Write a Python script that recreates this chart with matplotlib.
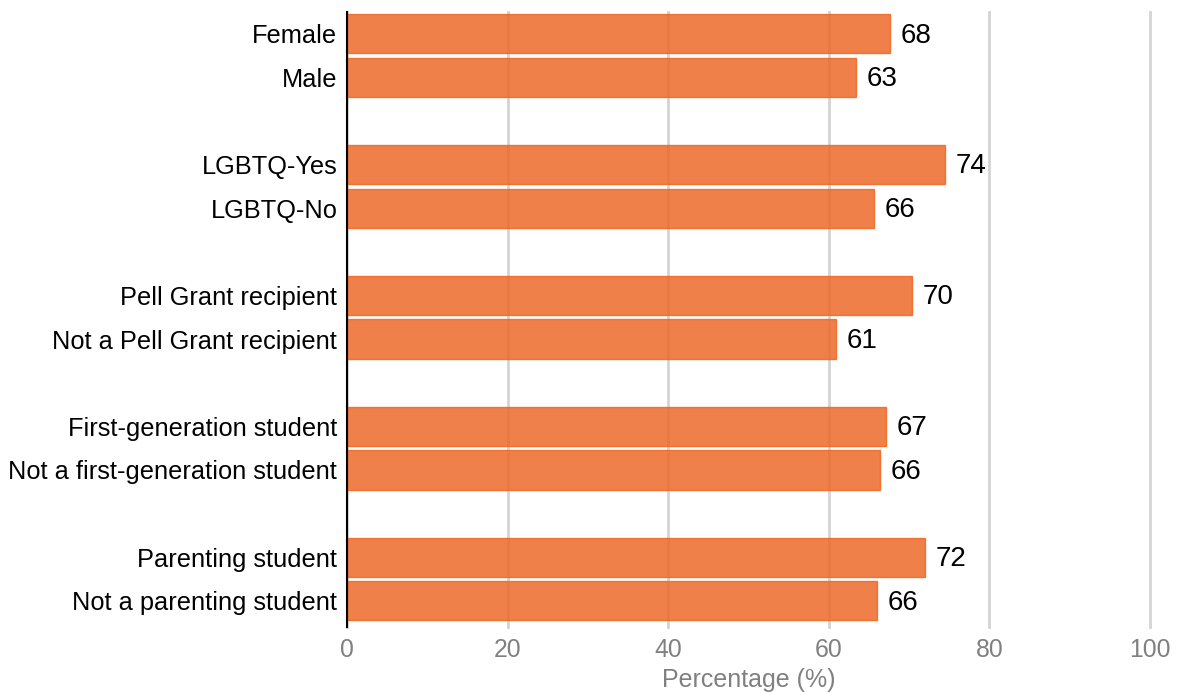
import matplotlib.pyplot as plt
import numpy as np

plt.rcParams['font.family'] = ['Liberation Sans', 'DejaVu Sans']

groups = [
    ["Female", "Male"],
    ["LGBTQ-Yes", "LGBTQ-No"],
    ["Pell Grant recipient", "Not a Pell Grant recipient"],
    ["First-generation student", "Not a first-generation student"],
    ["Parenting student", "Not a parenting student"],
]
values = [
    [67.6, 63.4],
    [74.5, 65.6],
    [70.4, 60.9],
    [67.1, 66.4],
    [72.0, 66.0],
]
value_labels = [
    ["68", "63"],
    ["74", "66"],
    ["70", "61"],
    ["67", "66"],
    ["72", "66"],
]

# two bars per group, one empty slot between groups
labels, vals, texts, pos = [], [], [], []
for g in range(len(groups)):
    for i in range(2):
        labels.append(groups[g][i])
        vals.append(values[g][i])
        texts.append(value_labels[g][i])
        pos.append(g * 3 + i)
pos = np.array(pos)

fig = plt.figure(figsize=(11.79, 6.92), dpi=100)
ax = fig.add_axes([0.2943, 0.0939, 0.6811, 0.8888])

ax.barh(pos, vals, height=0.9, color='#ED6A2A', alpha=0.85,
        edgecolor='#F26522', linewidth=1, zorder=2)

for p, v, t in zip(pos, vals, texts):
    ax.text(v + 1.3, p + 0.04, t, va='center', ha='left', fontsize=20, color='black')

ax.set_xlim(0, 100)
ax.set_ylim(13.6, -0.5)
ax.set_xticks([0, 20, 40, 60, 80, 100])
ax.set_yticks(pos)
ax.set_yticklabels(labels, fontsize=18.3)
ax.tick_params(axis='x', length=0, labelsize=17.8, labelcolor='#808080', pad=8)
ax.tick_params(axis='y', length=0, pad=7)
ax.set_xlabel('Percentage (%)', fontsize=18, color='#808080', labelpad=4)

ax.grid(True, axis='x', color='#d4d4d4', linewidth=2)
ax.set_axisbelow(True)
for line in ax.get_xgridlines():
    line.set_clip_on(False)
for s in ['top', 'right', 'bottom']:
    ax.spines[s].set_visible(False)
ax.spines['left'].set_color('black')
ax.spines['left'].set_linewidth(1.5)
ax.spines['left'].set_zorder(3)

plt.savefig('out.png', dpi=100)
